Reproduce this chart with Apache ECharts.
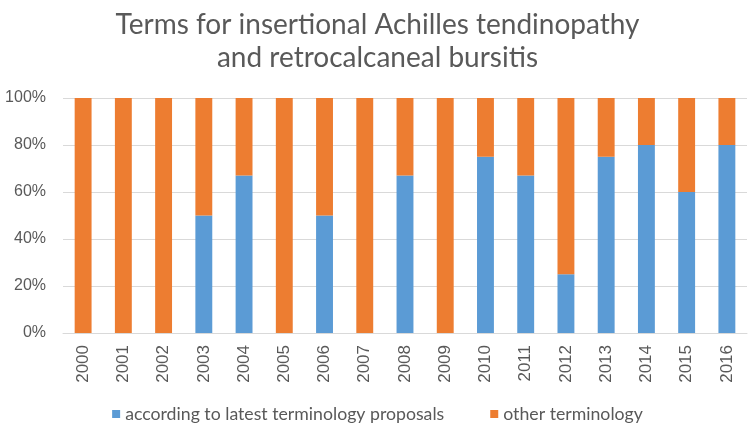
<!DOCTYPE html>
<html><head><meta charset="utf-8">
<script src="https://cdn.jsdelivr.net/npm/echarts@6/dist/echarts.min.js"></script>
<style>html,body{margin:0;padding:0;background:#fff}#c{width:755px;height:433px}</style>
</head><body><div id="c"></div>
<script>
const years = ['2000','2001','2002','2003','2004','2005','2006','2007','2008','2009','2010','2011','2012','2013','2014','2015','2016'];
const latest = [0,0,0,50,67,0,50,0,67,0,75,67,25,75,80,60,80];
const other = [100,100,100,50,33,100,50,100,33,100,25,33,75,25,20,40,20];
const seriesNames = ['according to latest terminology proposals','other terminology'];
const titleText = 'Terms for insertional Achilles tendinopathy\nand retrocalcaneal bursitis';
const TFONT = 'Lato, "Open Sans", sans-serif';
const AFONT = '"Liberation Sans", Arial, sans-serif';
const chart = echarts.init(document.getElementById('c'));
chart.setOption({
  animation:false,
  title:{text:titleText,left:'center',top:3,textStyle:{fontFamily:TFONT,fontSize:28,fontWeight:'normal',color:'#595959',lineHeight:33}},
  grid:{left:63,right:8,top:98,bottom:100},
  legend:{bottom:5,left:'center',itemWidth:8,itemHeight:8,itemGap:46,icon:'rect',textStyle:{fontFamily:TFONT,fontSize:17.7,color:'#595959'}},
  xAxis:{type:'category',data:years,axisLine:{lineStyle:{color:'#d9d9d9'}},axisTick:{show:false},
    axisLabel:{rotate:90,fontFamily:AFONT,fontSize:17,color:'#595959',margin:12}},
  yAxis:{type:'value',min:0,max:100,interval:20,axisLabel:{formatter:'{value}%',fontFamily:AFONT,fontSize:16,color:'#595959',margin:17},
    splitLine:{lineStyle:{color:'#d9d9d9'}},axisLine:{show:false},axisTick:{show:false}},
  series:[
    {name:seriesNames[0],type:'bar',stack:'a',data:latest,barWidth:'42%',itemStyle:{color:'#5b9bd5'}},
    {name:seriesNames[1],type:'bar',stack:'a',data:other,barWidth:'42%',itemStyle:{color:'#ed7d31'}}
  ]
});
</script></body></html>
